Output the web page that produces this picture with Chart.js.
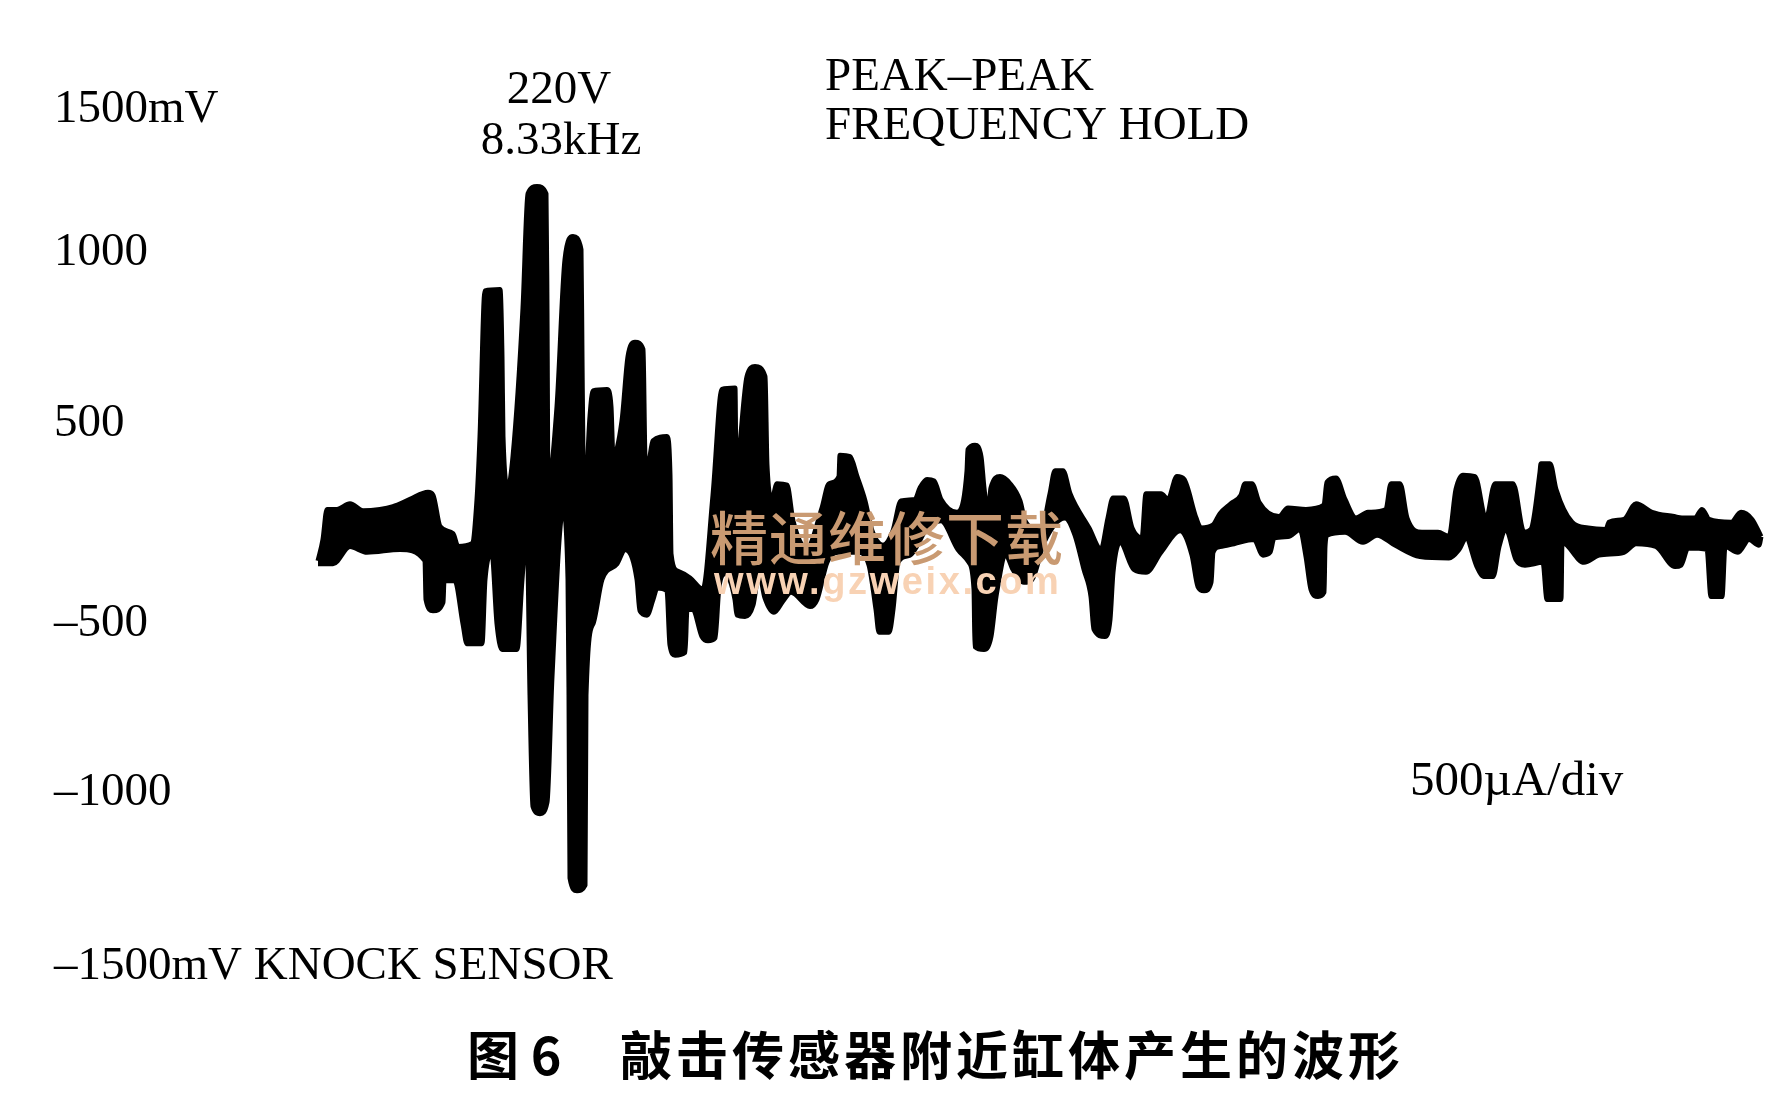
<!DOCTYPE html>
<html>
<head>
<meta charset="utf-8">
<title>图6 敲击传感器附近缸体产生的波形</title>
<script src="https://cdn.jsdelivr.net/npm/chart.js@4/dist/chart.umd.min.js"></script>
<style>
    html, body { margin: 0; padding: 0; background: #fff; }
    canvas { display: block; }
</style>
</head>
<body>
<canvas id="waveChart" width="1773" height="1099"></canvas>
<script>
// Waveform outline: x in divisions, y in mV
var upperX = [3.18,3.23,3.27,3.37,3.50,3.63,3.80,3.93,4.10,4.28,4.33,4.40,4.53,4.58,4.72,4.77,4.80,4.85,5.00,5.02,5.03,5.08,5.13,5.23,5.28,5.37,5.46,5.47,5.48,5.57,5.65,5.73,5.81,5.82,5.83,5.85,5.90,5.93,6.07,6.11,6.13,6.22,6.28,6.35,6.43,6.45,6.48,6.53,6.67,6.70,6.71,6.77,6.90,7.03,7.13,7.22,7.35,7.36,7.38,7.47,7.55,7.65,7.67,7.72,7.77,7.87,7.93,8.07,8.22,8.29,8.39,8.40,8.50,8.57,8.65,8.72,8.83,8.93,9.01,9.15,9.20,9.27,9.34,9.41,9.57,9.67,9.68,9.75,9.81,9.84,9.88,9.91,10.00,10.10,10.20,10.25,10.41,10.50,10.55,10.63,10.70,10.89,11.01,11.08,11.13,11.24,11.32,11.42,11.46,11.61,11.68,11.77,11.84,11.96,12.01,12.13,12.20,12.31,12.41,12.45,12.52,12.59,12.79,12.88,13.06,13.24,13.27,13.36,13.45,13.56,13.68,13.86,13.91,14.00,14.07,14.22,14.38,14.49,14.56,14.63,14.75,14.86,14.95,15.13,15.24,15.31,15.40,15.41,15.50,15.56,15.72,15.88,16.06,16.09,16.24,16.36,16.52,16.74,16.82,16.95,17.02,17.09,17.31,17.41,17.52,17.61];
var upperMv = [-80,-5,100,100,120,95,100,110,135,160,150,40,15,-30,-20,135,355,865,870,635,355,175,285,805,1205,1230,1205,805,185,460,975,1055,1010,635,285,135,425,515,520,460,285,410,635,685,660,285,255,340,355,220,-55,-115,-140,-180,150,520,525,245,265,565,600,565,255,135,190,185,60,-35,105,190,215,290,285,215,130,25,-25,25,130,135,175,205,200,135,90,235,310,325,285,175,80,175,215,190,130,60,25,155,235,235,155,35,-40,70,140,140,35,0,155,155,135,215,205,70,35,45,85,120,150,190,190,125,75,105,100,115,195,210,135,70,90,100,190,190,70,20,20,5,170,220,215,65,190,190,20,30,230,260,260,170,55,35,30,55,65,120,90,75,70,70,100,65,55,90,65,5];
var lowerX = [3.18,3.33,3.50,3.67,4.00,4.25,4.26,4.33,4.43,4.44,4.55,4.63,4.67,4.82,4.85,4.92,4.97,5.02,5.17,5.22,5.27,5.30,5.33,5.40,5.47,5.52,5.63,5.68,5.69,5.70,5.77,5.85,5.86,5.93,6.02,6.17,6.25,6.37,6.40,6.47,6.53,6.57,6.67,6.70,6.75,6.85,6.87,6.93,7.02,7.08,7.15,7.19,7.25,7.35,7.37,7.45,7.53,7.59,7.65,7.74,7.83,7.91,8.10,8.17,8.27,8.38,8.58,8.69,8.76,8.79,8.89,8.93,8.98,9.10,9.27,9.41,9.58,9.69,9.74,9.75,9.84,9.91,9.96,10.06,10.13,10.24,10.32,10.44,10.65,10.75,10.84,10.91,10.94,11.05,11.10,11.13,11.20,11.34,11.46,11.61,11.80,11.92,11.98,12.04,12.11,12.13,12.20,12.34,12.54,12.63,12.70,12.74,12.88,13.00,13.06,13.11,13.18,13.24,13.25,13.27,13.45,13.63,13.77,13.95,14.20,14.49,14.59,14.66,14.77,14.84,14.93,14.99,15.06,15.16,15.25,15.43,15.47,15.61,15.62,15.84,15.99,16.24,16.36,16.56,16.75,16.81,16.88,17.07,17.11,17.22,17.25,17.38,17.49,17.59,17.61];
var lowerMv = [-90,-90,-30,-50,-40,-80,-215,-255,-225,-150,-150,-300,-370,-370,-145,-55,-300,-390,-390,-145,45,-550,-940,-965,-925,-485,100,-145,-550,-1190,-1235,-1215,-550,-300,-145,-90,-40,-145,-255,-270,-215,-175,-185,-375,-410,-400,-250,-250,-345,-360,-350,-170,-125,-215,-270,-275,-235,-120,-210,-260,-220,-190,-240,-215,-85,-50,-50,-95,-250,-330,-330,-250,-85,-60,35,60,-40,-85,-180,-380,-390,-345,-205,-60,-110,-155,-145,-15,70,10,-110,-205,-320,-345,-285,-120,-15,-110,-120,-50,25,-60,-170,-185,-155,-50,-30,-20,-5,-60,-50,0,5,30,-65,-180,-205,-190,-30,10,20,-15,10,-25,-65,-70,-40,0,-100,-135,-135,-30,30,-75,-95,-85,-215,-215,-15,-85,-60,-50,-20,-30,-100,-95,-35,-40,-205,-205,-30,-50,-5,-25,5];

// Tick labels sit unevenly in the original
var yTickValues = [1500, 1000, 399, -301, -892, -1500];
var yTickLabels = ['1500mV', '1000', '500', '–500', '–1000', '–1500mV KNOCK SENSOR'];

var captionLeft = '图 6';
var captionRight = '敲击传感器附近缸体产生的波形';
var watermarkName = '精通维修下载';
var watermarkUrl = 'www.gzweix.com';

function toPoints(xs, ys) {
    return xs.map(function(x, i) {
        return { x: x, y: ys[i] };
    });
}

function drawText(ctx, text, x, y, font, color, align, spacing) {
    ctx.font = font;
    ctx.fillStyle = color;
    ctx.textAlign = align || 'left';
    ctx.textBaseline = 'middle';
    ctx.letterSpacing = spacing || '0px';
    ctx.fillText(text, x, y);
}

// Notes, caption and the site watermark over the trace
var notesPlugin = {
    id: 'notes',
    afterDatasetsDraw: function(chart) {
        var ctx = chart.ctx;
        var serif = '47px "Liberation Serif"';
        ctx.save();
        drawText(ctx, '220V', 559, 91, serif, '#000', 'center');
        drawText(ctx, '8.33kHz', 561, 142, serif, '#000', 'center');
        drawText(ctx, 'PEAK–PEAK', 825, 78, serif, '#000');
        drawText(ctx, 'FREQUENCY HOLD', 825, 127, serif, '#000');
        drawText(ctx, '500µA/div', 1410, 782, '49px "Liberation Serif"', '#000');
        var capFont = 'bold 52px "Noto Sans CJK SC"';
        drawText(ctx, captionLeft, 467, 1055, capFont, '#000', 'left', '0px');
        drawText(ctx, captionRight, 620, 1055, capFont, '#000', 'left', '4px');
        drawText(ctx, watermarkName, 710, 538, '500 58px "Noto Sans CJK SC"', '#c99a72', 'left', '1px');
        drawText(ctx, watermarkUrl, 714, 584, 'bold 38px "Liberation Sans"', '#f8d2b4', 'left', '2.6px');
        ctx.restore();
    }
};

new Chart(document.getElementById('waveChart'), {
    type: 'line',
    data: {
        datasets: [{
            label: 'upper',
            data: toPoints(upperX, upperMv),
            borderColor: '#000',
            borderWidth: 5,
            borderJoinStyle: 'round',
            cubicInterpolationMode: 'monotone',
            pointRadius: 0,
            fill: false
        }, {
            label: 'lower',
            data: toPoints(lowerX, lowerMv),
            borderColor: '#000',
            borderWidth: 5,
            borderJoinStyle: 'round',
            cubicInterpolationMode: 'monotone',
            backgroundColor: '#000',
            pointRadius: 0,
            fill: '-1'
        }]
    },
    options: {
        responsive: false,
        animation: false,
        layout: {
            padding: { left: 0, right: 0, top: 108, bottom: 131 }
        },
        plugins: {
            legend: { display: false },
            tooltip: { enabled: false }
        },
        scales: {
            x: {
                type: 'linear',
                display: false,
                min: 0,
                max: 17.73
            },
            y: {
                min: -1505,
                max: 1505,
                border: { display: false },
                grid: { display: false, drawTicks: false },
                afterBuildTicks: function(axis) {
                    axis.ticks = yTickValues.map(function(v) {
                        return { value: v };
                    });
                },
                afterFit: function(axis) {
                    axis.width = 0;
                },
                ticks: {
                    mirror: true,
                    padding: 54,
                    autoSkip: false,
                    color: '#000',
                    font: { family: '"Liberation Serif"', size: 47 },
                    callback: function(value) {
                        return yTickLabels[yTickValues.indexOf(value)];
                    }
                }
            }
        }
    },
    plugins: [notesPlugin]
});
</script>
</body>
</html>
